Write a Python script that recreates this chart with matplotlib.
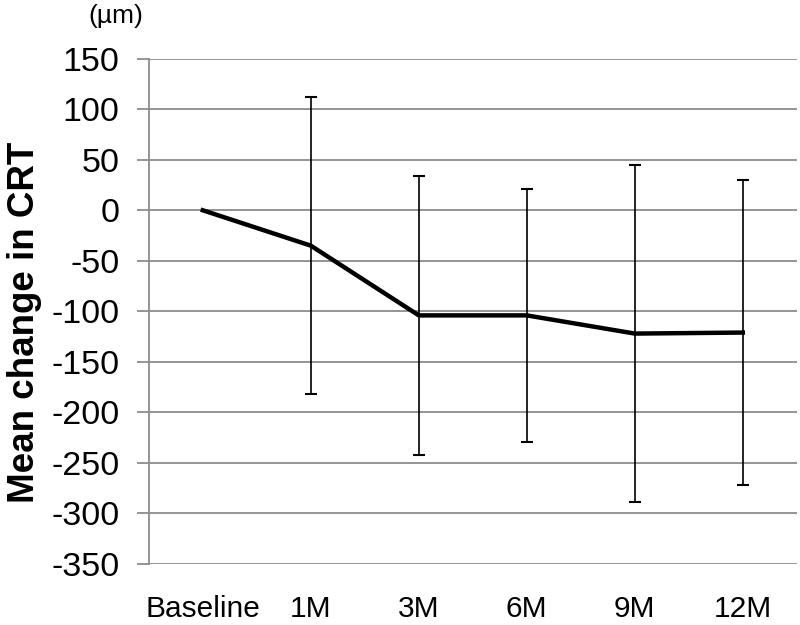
import numpy as np
import matplotlib.pyplot as plt

plt.rcParams['font.family'] = ['Liberation Sans', 'DejaVu Sans']
plt.rcParams['axes.unicode_minus'] = False

# Dados
categorias = ['Baseline', '1M', '3M', '6M', '9M', '12M']
media = [0, -35, -104, -104, -122, -121]
desvio = [0, 147, 138, 125, 167, 151]

x = np.arange(len(categorias))

fig = plt.figure(figsize=(8, 6.25), dpi=100)
ax = fig.add_axes([0.186, 0.0976, 0.81, 0.8085])

cinza = '#8c8c8c'
ax.set_yticks(np.arange(-350, 151, 50))
ax.set_ylim(-350, 150)
ax.set_xlim(-0.5, len(categorias) - 0.5)
ax.yaxis.grid(True, color=cinza, linewidth=1.3)
ax.set_axisbelow(True)

# barras de erro (sem a linha de base)
ax.errorbar(x[1:], media[1:], yerr=desvio[1:], fmt='none', ecolor='black',
            elinewidth=1.2, capsize=4.5, capthick=1.5, zorder=2)
ax.plot(x, media, color='black', linewidth=3.2, zorder=3)

ax.set_xticks(x)
ax.set_xticklabels(categorias, fontsize=21.5)
ax.tick_params(axis='x', length=0, pad=22)
ax.tick_params(axis='y', length=9, width=1.3, color=cinza, labelsize=24.5, pad=12)

for lado in ['top', 'right', 'bottom']:
    ax.spines[lado].set_visible(False)
ax.spines['left'].set_color(cinza)
ax.spines['left'].set_linewidth(1.3)

ax.set_ylabel('Mean change in CRT', fontsize=26.5, fontweight='bold')
ax.yaxis.set_label_coords(-0.165, 0.479)
fig.text(0.145, 0.975, '(µm)', fontsize=19, ha='center', va='center')

plt.savefig('out.png', dpi=100)
